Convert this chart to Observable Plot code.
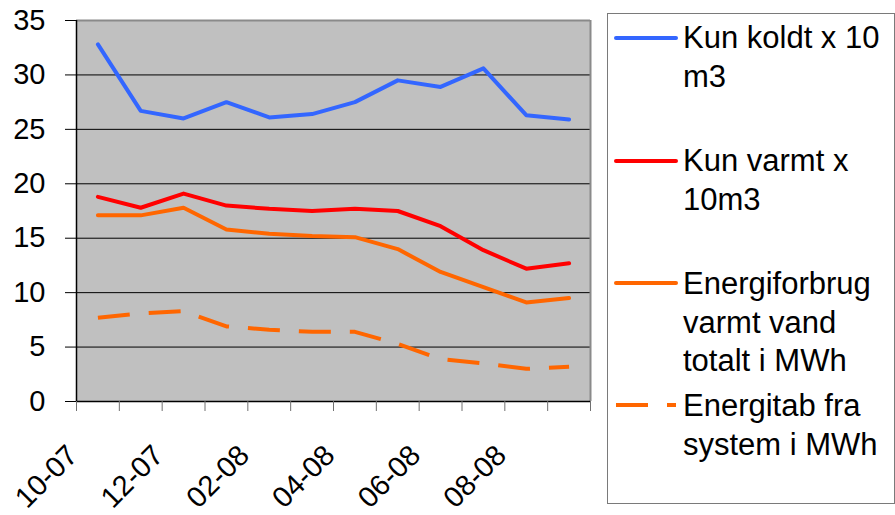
<!DOCTYPE html>
<html>
<head>
<meta charset="utf-8">
<script src="https://cdn.jsdelivr.net/npm/d3@7"></script>
<script src="https://cdn.jsdelivr.net/npm/@observablehq/plot@0.6"></script>
<style>
  html, body { margin: 0; padding: 0; background: white; }
  #wrap { position: relative; width: 895px; height: 515px; font-family: "Liberation Sans", Arial, sans-serif; }
  #wrap > svg.plot { position: absolute; left: 0; top: 0; }
  .legbox { position: absolute; left: 607px; top: 13px; width: 288px; height: 491px; box-sizing: border-box; border: 1.5px solid #7a7a7a; }
  .legtext { position: absolute; left: 683px; font-size: 31px; line-height: 38.5px; white-space: pre-line; color: black; }
  .legsvg { position: absolute; left: 0; top: 0; pointer-events: none; }
</style>
</head>
<body>
<div id="wrap"></div>
<script>
const months = ["10-07","11-07","12-07","01-08","02-08","03-08","04-08","05-08","06-08","07-08","08-08","09-08"];
const labelMonths = ["10-07","12-07","02-08","04-08","06-08","08-08"];
const yTicks = [0, 5, 10, 15, 20, 25, 30, 35];

const koldt  = [32.8, 26.7, 26.0, 27.5, 26.1, 26.4, 27.5, 29.5, 28.9, 30.6, 26.3, 25.9];
const varmt  = [18.8, 17.8, 19.1, 18.0, 17.7, 17.5, 17.7, 17.5, 16.1, 13.9, 12.2, 12.7];
const energi = [17.1, 17.1, 17.8, 15.8, 15.4, 15.2, 15.1, 14.0, 11.9, 10.5, 9.1, 9.5];
const tab    = [7.7, 8.1, 8.3, 6.9, 6.6, 6.4, 6.4, 5.3, 3.9, 3.5, 3.0, 3.2];

const seriesNames = ["Kun koldt x 10\nm3", "Kun varmt x\n10m3", "Energiforbrug\nvarmt vand\ntotalt i MWh", "Energitab fra\nsystem i MWh"];
const seriesColors = ["#3366ff", "#ff0000", "#ff6600", "#ff6600"];
const seriesDash = [null, null, null, "32,19"];
const seriesValues = [koldt, varmt, energi, tab];

const rows = seriesValues.map((vals, s) => vals.map((v, i) => ({s, i, v})));

const boundaries = d3.range(months.length + 1).map(k => k - 0.5);
const labelIdx = labelMonths.map(m => months.indexOf(m));

const lineMarks = rows.map((r, s) => Plot.line(r, {
  x: "i", y: "v", stroke: seriesColors[s], strokeWidth: 4,
  strokeDasharray: seriesDash[s] || undefined,
  strokeLinejoin: "round", strokeLinecap: s === 3 ? "butt" : "round"
}));

const chart = Plot.plot({
  width: 600, height: 515,
  marginLeft: 76, marginRight: 10, marginTop: 20, marginBottom: 114,
  style: {fontFamily: "'Liberation Sans', Arial, sans-serif", fontSize: "29px", color: "black", background: "transparent", overflow: "visible"},
  x: {type: "linear", domain: [-0.5, months.length - 0.5], label: null},
  y: {domain: [0, 35], label: null},
  marks: [
    Plot.frame({fill: "#c0c0c0", stroke: null}),
    Plot.gridY(yTicks, {stroke: "black", strokeOpacity: 1, strokeWidth: 1}),
    Plot.ruleY([35], {stroke: "#8a8a8a", strokeWidth: 2}),
    Plot.ruleX([months.length - 0.5], {stroke: "#8a8a8a", strokeWidth: 2}),
    ...lineMarks,
    Plot.ruleY([0], {stroke: "black", strokeWidth: 1.5}),
    Plot.ruleX([-0.5], {stroke: "black", strokeWidth: 1.5}),
    Plot.axisY({ticks: yTicks, tickSize: 11, tickPadding: 20, fontSize: 29, stroke: "black", label: null, tickFormat: d => String(d)}),
    Plot.axisX({ticks: boundaries, tickSize: 10, tickFormat: () => "", label: null, stroke: "#707070"}),
    Plot.axisX({ticks: labelIdx, tickSize: 0, tickPadding: 0, tickRotate: -45, textAnchor: "end", lineAnchor: "top", label: null,
      tickFormat: i => months[i], fontSize: 29, dx: -33, dy: 41})
  ]
});
chart.classList.add("plot");

const wrap = document.getElementById("wrap");
wrap.appendChild(chart);

const box = document.createElement("div");
box.className = "legbox";
wrap.appendChild(box);

const textTops = [19, 142, 265, 387];
const sampleY = [38, 161, 283, 405];

const legSvg = d3.select(wrap).append("svg").attr("class", "legsvg").attr("width", 895).attr("height", 515);
seriesNames.forEach((name, s) => {
  const t = document.createElement("div");
  t.className = "legtext";
  t.style.top = textTops[s] + "px";
  t.textContent = name;
  wrap.appendChild(t);
  legSvg.append("line")
    .attr("x1", 616).attr("x2", 676).attr("y1", sampleY[s]).attr("y2", sampleY[s])
    .attr("stroke", seriesColors[s]).attr("stroke-width", 4)
    .attr("stroke-dasharray", seriesDash[s])
    .attr("stroke-linecap", s === 3 ? "butt" : "round");
});
</script>
</body>
</html>
